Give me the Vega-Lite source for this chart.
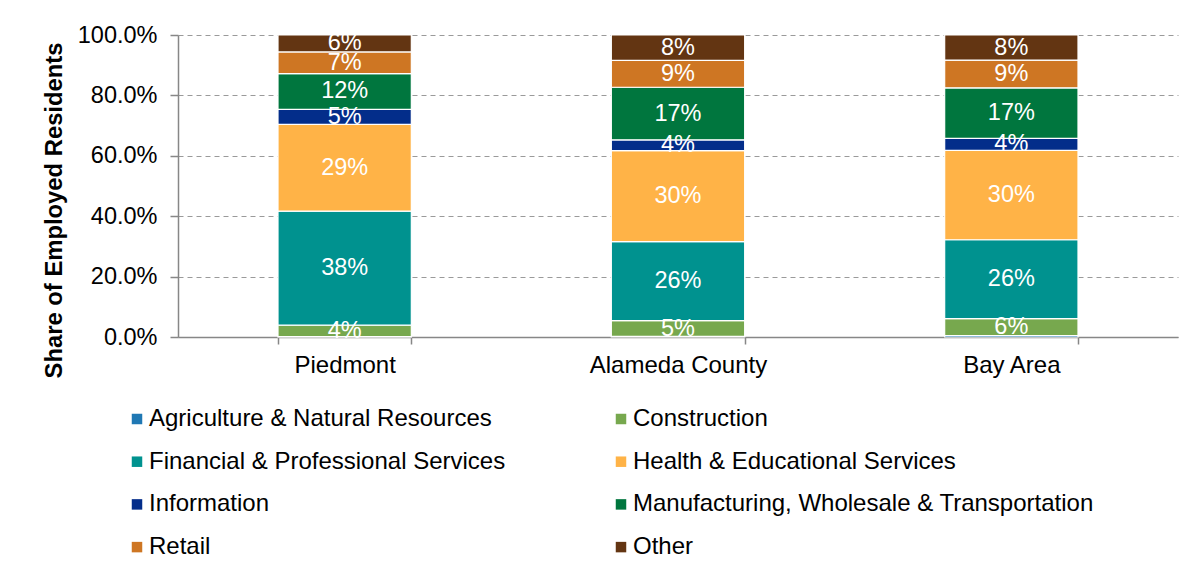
{
  "$schema": "https://vega.github.io/schema/vega-lite/v6.json",
  "autosize": "none",
  "padding": {"left": 178, "top": 35, "right": 22, "bottom": 239},
  "width": 1000,
  "height": 302,
  "background": "white",
  "config": {
    "font": "Liberation Sans",
    "view": {"stroke": null},
    "axis": {"labelFont": "Liberation Sans", "titleFont": "Liberation Sans", "labelColor": "black", "titleColor": "black"}
  },
  "data": {
    "values": [
      {"area": "Piedmont", "industry": "Agriculture & Natural Resources", "k": 1, "v": 0.001},
      {"area": "Piedmont", "industry": "Construction", "k": 2, "v": 0.038},
      {"area": "Piedmont", "industry": "Financial & Professional Services", "k": 3, "v": 0.378},
      {"area": "Piedmont", "industry": "Health & Educational Services", "k": 4, "v": 0.287},
      {"area": "Piedmont", "industry": "Information", "k": 5, "v": 0.050},
      {"area": "Piedmont", "industry": "Manufacturing, Wholesale & Transportation", "k": 6, "v": 0.118},
      {"area": "Piedmont", "industry": "Retail", "k": 7, "v": 0.072},
      {"area": "Piedmont", "industry": "Other", "k": 8, "v": 0.056},
      {"area": "Alameda County", "industry": "Agriculture & Natural Resources", "k": 1, "v": 0.002},
      {"area": "Alameda County", "industry": "Construction", "k": 2, "v": 0.052},
      {"area": "Alameda County", "industry": "Financial & Professional Services", "k": 3, "v": 0.262},
      {"area": "Alameda County", "industry": "Health & Educational Services", "k": 4, "v": 0.301},
      {"area": "Alameda County", "industry": "Information", "k": 5, "v": 0.036},
      {"area": "Alameda County", "industry": "Manufacturing, Wholesale & Transportation", "k": 6, "v": 0.174},
      {"area": "Alameda County", "industry": "Retail", "k": 7, "v": 0.089},
      {"area": "Alameda County", "industry": "Other", "k": 8, "v": 0.084},
      {"area": "Bay Area", "industry": "Agriculture & Natural Resources", "k": 1, "v": 0.005},
      {"area": "Bay Area", "industry": "Construction", "k": 2, "v": 0.056},
      {"area": "Bay Area", "industry": "Financial & Professional Services", "k": 3, "v": 0.261},
      {"area": "Bay Area", "industry": "Health & Educational Services", "k": 4, "v": 0.296},
      {"area": "Bay Area", "industry": "Information", "k": 5, "v": 0.040},
      {"area": "Bay Area", "industry": "Manufacturing, Wholesale & Transportation", "k": 6, "v": 0.167},
      {"area": "Bay Area", "industry": "Retail", "k": 7, "v": 0.092},
      {"area": "Bay Area", "industry": "Other", "k": 8, "v": 0.083}
    ]
  },
  "transform": [
    {"stack": "v", "groupby": ["area"], "sort": [{"field": "k", "order": "ascending"}], "as": ["y0", "y1"]},
    {"calculate": "(datum.y0 + datum.y1) / 2", "as": "ym"}
  ],
  "encoding": {
    "x": {
      "field": "area",
      "type": "nominal",
      "sort": ["Piedmont", "Alameda County", "Bay Area"],
      "scale": {"paddingInner": 0.6, "paddingOuter": 0.3},
      "axis": {
        "title": null,
        "labelAngle": 0,
        "labelFontSize": 24,
        "labelPadding": 9,
        "domainColor": "#878787",
        "domainWidth": 1.5,
        "tickColor": "#878787",
        "tickWidth": 1.5,
        "tickSize": 7,
        "tickBand": "extent",
        "grid": false
      }
    }
  },
  "layer": [
    {
      "mark": {"type": "bar", "stroke": "white", "strokeWidth": 1.2},
      "encoding": {
        "y": {
          "field": "y0",
          "type": "quantitative",
          "scale": {"domain": [0, 1], "nice": false},
          "axis": {
            "title": "Share of Employed Residents",
            "titleFontSize": 23.8,
            "titleFontWeight": "bold",
            "titlePadding": 11,
            "titleY": 175,
            "format": ".1%",
            "values": [0, 0.1, 0.2, 0.3, 0.4, 0.5, 0.6, 0.7, 0.8, 0.9, 1.0],
            "labelOverlap": false,
            "labelFontSize": 23.5,
            "labelPadding": 13,
            "domainColor": "#878787",
            "domainWidth": 1.5,
            "tickColor": "#878787",
            "tickWidth": 1.5,
            "tickSize": 8,
            "grid": true,
            "gridColor": "#9a9a9a",
            "gridDash": [5, 4],
            "gridWidth": 1
          }
        },
        "y2": {"field": "y1"},
        "color": {
          "field": "industry",
          "type": "nominal",
          "scale": {
            "domain": ["Agriculture & Natural Resources", "Financial & Professional Services", "Information", "Retail", "Construction", "Health & Educational Services", "Manufacturing, Wholesale & Transportation", "Other"],
            "range": ["#1F78B4", "#00928F", "#032D8A", "#CE7623", "#77A84E", "#FFB347", "#00763E", "#633512"]
          },
          "legend": {
            "title": null,
            "orient": "none",
            "legendX": -53,
            "legendY": 372,
            "columns": 2,
            "columnPadding": 103,
            "rowPadding": 18.7,
            "symbolType": "square",
            "symbolSize": 110,
            "symbolStrokeWidth": 0,
            "labelFontSize": 24,
            "labelFont": "Liberation Sans",
            "labelColor": "black",
            "labelOffset": 0,
            "labelLimit": 600,
            "padding": 0
          }
        }
      }
    },
    {
      "transform": [{"filter": "datum.k != 1"}],
      "mark": {"type": "text", "color": "white", "fontSize": 23.5, "font": "Liberation Sans", "baseline": "middle", "align": "center"},
      "encoding": {
        "y": {"field": "ym", "type": "quantitative"},
        "text": {"field": "v", "type": "quantitative", "format": ".0%"}
      }
    }
  ]
}
